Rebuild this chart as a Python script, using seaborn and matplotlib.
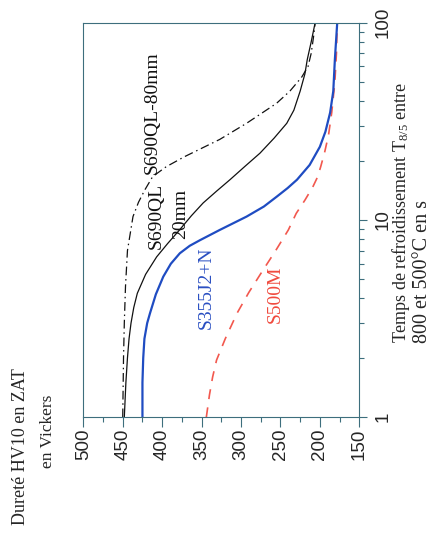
import numpy as np
import pandas as pd
import seaborn as sns
import matplotlib.pyplot as plt
from matplotlib.ticker import FixedLocator, NullFormatter

# Dureté HV10 en ZAT vs temps de refroidissement t8/5 (s)
t_80mm = [1, 2, 3, 4.6, 7, 10.4, 12.3, 14.2, 16.6, 18.6, 20.9, 25.6, 30.9, 39, 45, 53, 60, 70, 85, 100]
hv_80mm = [450, 449, 448, 446.5, 444, 437, 430, 422, 412, 395, 372, 327, 293, 255, 238, 223, 215, 211, 208, 206]

t_20mm = [1, 1.5, 2, 2.5, 3, 3.6, 4.25, 5.3, 6.5, 7.6, 8.9, 10.5, 12.2, 14, 16, 18.7, 21.8, 26, 30.9, 36, 45, 55, 65, 80, 100]
hv_20mm = [448, 446, 444, 442, 439.5, 436, 431.5, 421, 407, 393, 378, 363, 348, 331, 314, 295, 276, 258, 242, 233, 225, 219, 216, 211, 206]

t_s355 = [1, 1.5, 2, 2.5, 3, 3.37, 4.2, 5.16, 6, 6.78, 7.4, 7.9, 8.9, 10.4, 11.7, 13.1, 14.5, 16, 19, 23.5, 28, 35, 45, 65, 100]
hv_s355 = [425, 425, 424, 422.5, 419, 415.4, 408, 398.6, 389, 377.6, 365, 352, 327, 293, 271, 255, 241, 229, 213, 200, 193, 187, 183, 181, 178]

t_s500 = [1, 1.3, 1.6, 1.95, 2.5, 3.37, 4.3, 5.58, 7, 8.9, 10.8, 12.6, 14.7, 16.5, 18.6, 22, 27, 35, 50, 70, 100]
hv_s500 = [344, 340, 336, 331, 320, 305, 290, 272, 256, 240, 230, 219, 209, 203, 199, 194, 189, 185, 181, 179, 178]

hv_ticks = [500, 450, 400, 350, 300, 250, 200, 150]
t_ticks = [1, 10, 100]

sns.set_theme(style="white")
plt.rcParams['font.family'] = 'sans-serif'
plt.rcParams['font.sans-serif'] = ['Liberation Sans', 'DejaVu Sans']
plt.rcParams['mathtext.fontset'] = 'custom'
plt.rcParams['mathtext.rm'] = 'Liberation Serif'
plt.rcParams['mathtext.it'] = 'Liberation Serif:italic'

spine_col = "#3d6e7d"
serif = "Liberation Serif"
sans = "Liberation Sans"

fig = plt.figure(figsize=(4.35, 5.41), dpi=100)
ax = fig.add_axes([0.1915, 0.2287, 0.6345, 0.7294])

# courbes (axe dureté horizontal, temps vertical : figure tournée)
sns.lineplot(data=pd.DataFrame({"hv": hv_s500, "t": t_s500}), x="hv", y="t", orient="y",
             ax=ax, color="#f2584e", lw=1.2, linestyle=(0, (6, 5)))
sns.lineplot(data=pd.DataFrame({"hv": hv_80mm, "t": t_80mm}), x="hv", y="t", orient="y",
             ax=ax, color="#111111", lw=0.9, linestyle=(0, (7, 3, 1.2, 3)))
sns.lineplot(data=pd.DataFrame({"hv": hv_20mm, "t": t_20mm}), x="hv", y="t", orient="y",
             ax=ax, color="#111111", lw=0.9)
sns.lineplot(data=pd.DataFrame({"hv": hv_s355, "t": t_s355}), x="hv", y="t", orient="y",
             ax=ax, color="#1f4cc2", lw=1.6)

ax.set_yscale("log")
ax.set_ylim(1, 100)
ax.set_xlim(500, 150)
ax.yaxis.tick_right()
ax.set_xlabel("")
ax.set_ylabel("")

ax.set_xticks(hv_ticks, labels=[str(v) for v in hv_ticks])
ax.xaxis.set_minor_locator(FixedLocator(np.arange(175, 500, 50)))
ax.set_yticks(t_ticks, labels=[str(v) for v in t_ticks])
ax.yaxis.set_minor_formatter(NullFormatter())

for s in ax.spines.values():
    s.set_color(spine_col)
    s.set_linewidth(0.8)
    s.set_visible(True)

ax.tick_params(axis="x", which="major", direction="out", length=7, width=0.8, color=spine_col,
               labelsize=13.5, labelrotation=90, pad=1, bottom=True)
ax.tick_params(axis="x", which="minor", direction="out", length=3.5, width=0.8, color=spine_col, bottom=True)
ax.tick_params(axis="y", which="major", direction="out", length=6, width=0.8, color=spine_col,
               labelsize=13.5, labelrotation=90, pad=5, right=True, left=False)
ax.tick_params(axis="y", which="minor", direction="out", length=3.5, width=0.8, color=spine_col,
               right=True, left=False)
for lab in ax.get_xticklabels() + ax.get_yticklabels():
    lab.set_fontfamily(sans)
for lab in ax.get_yticklabels():
    lab.set_va("center")

# étiquettes des courbes
ax.text(413, 34.9, "S690QL-80mm", rotation=90, ha="center", va="center", family=serif, fontsize=14, color="#111111")
ax.text(407, 10.5, "S690QL", rotation=90, ha="center", va="center", family=serif, fontsize=14, color="#111111")
ax.text(377, 10.7, "20mm", rotation=90, ha="center", va="center", family=serif, fontsize=14, color="#111111")
ax.text(343.5, 4.52, "S355J2+N", rotation=90, ha="center", va="center", family=serif, fontsize=14, color="#2a4fc2")
ax.text(256, 4.22, "S500M", rotation=90, ha="center", va="center", family=serif, fontsize=14, color="#f04a3e")

# titres d'axes
fig.text(0.046, 0.174, "Dureté HV10 en ZAT", rotation=90, ha="center", va="center", family=serif, fontsize=13)
fig.text(0.110, 0.203, "en Vickers", rotation=90, ha="center", va="center", family=serif, fontsize=12.5)
fig.text(0.922, 0.366, r"Temps de refroidissement T$_{8/5}$ entre", rotation=90, ha="center", va="bottom",
         family=serif, fontsize=13)
fig.text(0.971, 0.366, "800 et 500°C en s", rotation=90, ha="center", va="bottom", family=serif, fontsize=14.5)

fig.savefig("out.png", dpi=100)
